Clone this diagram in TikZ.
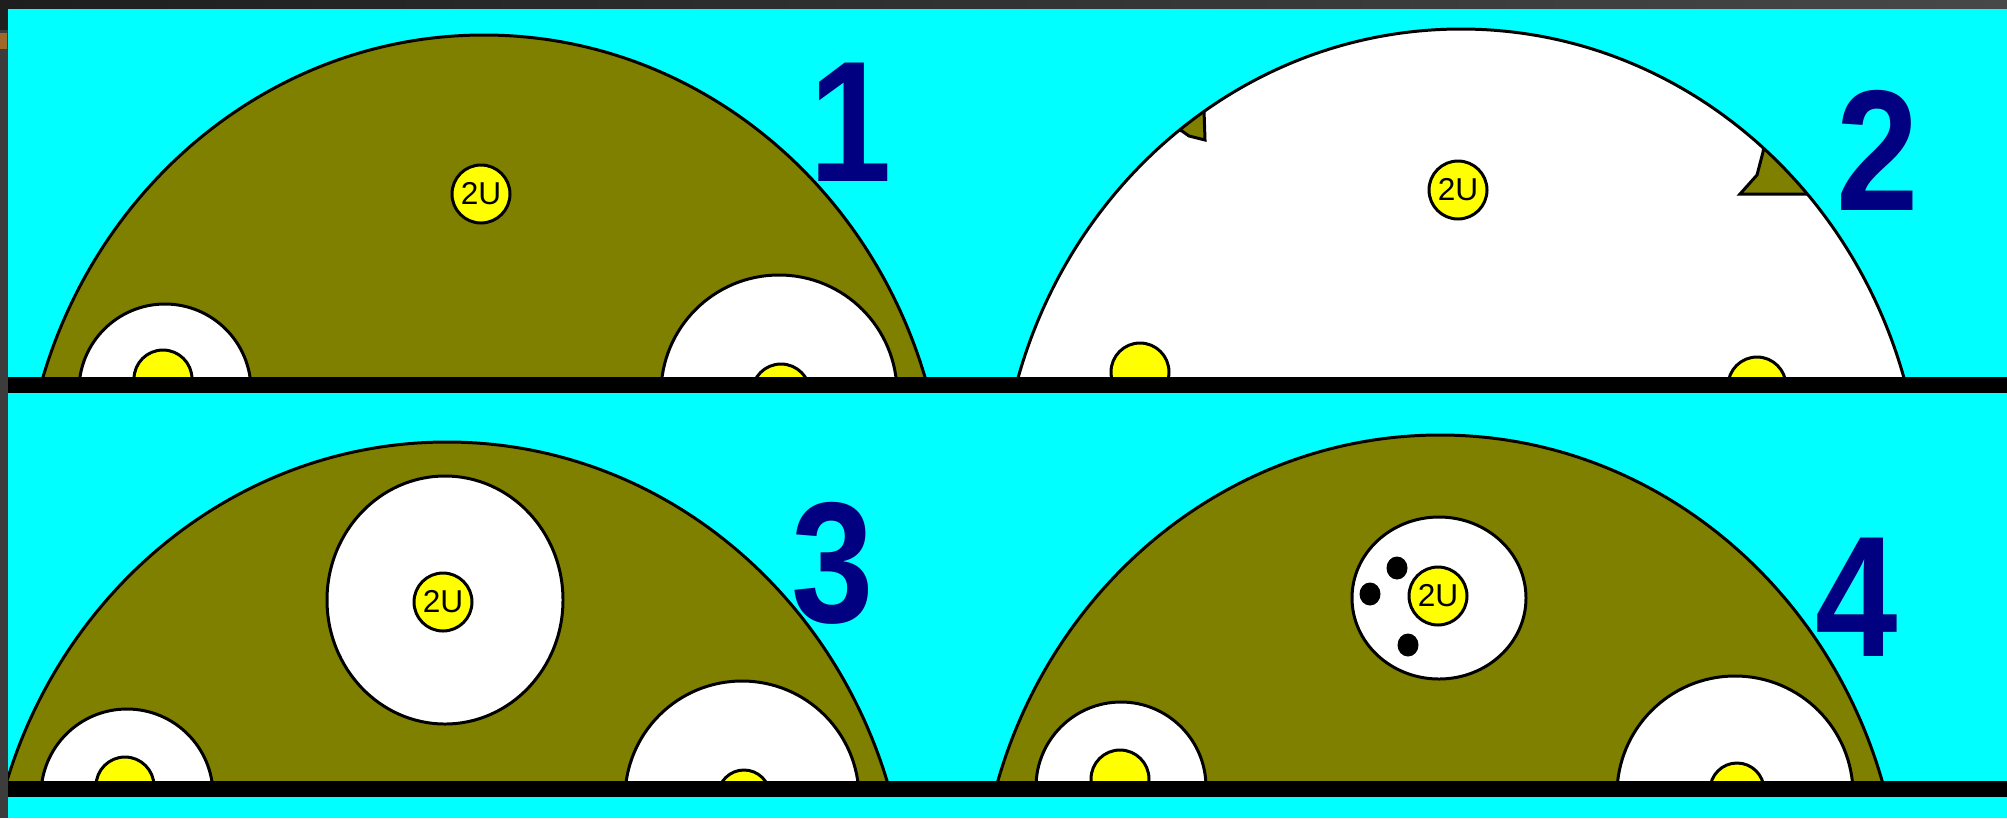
\documentclass[tikz,border=0pt]{standalone}
\usepackage{fontspec}
\setmainfont{Liberation Sans}
\definecolor{cyanbg}{HTML}{00FFFF}
\definecolor{olv}{HTML}{808000}
\definecolor{navyc}{HTML}{000080}
\definecolor{yel}{HTML}{FFFF00}
\definecolor{frameA}{HTML}{1E1E1E}
\definecolor{frameB}{HTML}{484848}
\definecolor{frameL}{HTML}{3C3C3C}
\definecolor{speck}{HTML}{A0682A}
\newcommand{\narrowdigit}[1]{\scalebox{0.86}[1]{#1}}
\begin{document}
\begin{tikzpicture}[x=0.1mm,y=-0.1mm,
  outl/.style={draw=black,line width=0.85pt},
  olivebody/.style={fill=olv,outl},
  hollow/.style={fill=white,outl},
  seed/.style={fill=yel,outl},
  zu/.style={circle,fill=yel,outl,minimum size=5.8mm,inner sep=0pt,font=\fontsize{9}{9}\selectfont},
  num/.style={text=navyc,font=\fontsize{49}{49}\selectfont\bfseries,inner sep=0pt},
  spot/.style={fill=black},
  bar/.style={fill=black}]
\useasboundingbox (0,0) rectangle (2007,818);
\fill[cyanbg] (0,0) rectangle (2007,818);

% ---------- Panel 1 ----------
\begin{scope}
\clip (8,8) rectangle (2007,385);
\path[olivebody] (484,523) ellipse [x radius=462, y radius=488];
\path[hollow] (165,390) circle [radius=86];
\path[seed] (163,379) circle [radius=29];
\path[hollow] (779,393) circle [radius=118];
\path[seed] (781,393) circle [radius=29];
\end{scope}
\node[zu] (zu1) at (481,194) {2U};
\node[num] (n1) at (851,122) {\narrowdigit{1}};

% ---------- Panel 2 ----------
\begin{scope}
\clip (8,8) rectangle (2007,385);
\path[fill=white] (1461,517) ellipse [x radius=462, y radius=488];
\begin{scope}
\clip (1461,517) ellipse [x radius=462, y radius=488];
\path[olivebody] (1203,98) -- (1160,125) -- (1182,131) -- (1189,136) -- (1205,140) -- (1204,110) -- cycle;
\path[olivebody] (1766,135) -- (1763,152) -- (1757,175) -- (1740,194) -- (1815,194) -- (1790,135) -- cycle;
\end{scope}
\path[outl] (1461,517) ellipse [x radius=462, y radius=488];
\path[seed] (1140,372) circle [radius=29];
\path[seed] (1757,386) circle [radius=29];
\end{scope}
\node[zu] (zu2) at (1458,190) {2U};
\node[num] (n2) at (1878,150) {\narrowdigit{2}};

% ---------- Panel 3 ----------
\begin{scope}
\clip (8,394) rectangle (2007,789);
\path[olivebody] (447,930) ellipse [x radius=462, y radius=488];
\path[hollow] (445,600) ellipse [x radius=118, y radius=124];
\path[hollow] (127,795) circle [radius=86];
\path[seed] (125,786) circle [radius=29];
\path[hollow] (742,798) circle [radius=117];
\path[seed] (744,796) circle [radius=26];
\end{scope}
\node[zu] (zu3) at (443,602) {2U};
\node[num] (n3) at (833,563) {\narrowdigit{3}};

% ---------- Panel 4 ----------
\begin{scope}
\clip (8,394) rectangle (2007,789);
\path[olivebody] (1440,923) ellipse [x radius=462, y radius=488];
\path[hollow] (1439,598) ellipse [x radius=87, y radius=81];
\path[spot] (1397,568) ellipse [x radius=10.5, y radius=11.5];
\path[spot] (1370,594) ellipse [x radius=10.5, y radius=11.5];
\path[spot] (1408,645) ellipse [x radius=10.5, y radius=11.5];
\path[hollow] (1121,787) circle [radius=85];
\path[seed] (1120,779) circle [radius=29];
\path[hollow] (1735,794) circle [radius=118];
\path[seed] (1737,790) circle [radius=27];
\end{scope}
\node[zu] (zu4) at (1438,596) {2U};
\node[num] (n4) at (1857,597) {\narrowdigit{4}};

% ---------- ground lines ----------
\path[bar] (8,377) rectangle (2007,393);
\path[bar] (8,781) rectangle (2007,797);

% ---------- window frame ----------
\shade[left color=frameA, right color=frameB] (0,0) rectangle (2007,8);
\fill[frameL] (0,8) rectangle (8,818);
\fill[frameA] (0,0) rectangle (8,30);
\fill[speck] (0,33) rectangle (7,49);
\end{tikzpicture}
\end{document}
